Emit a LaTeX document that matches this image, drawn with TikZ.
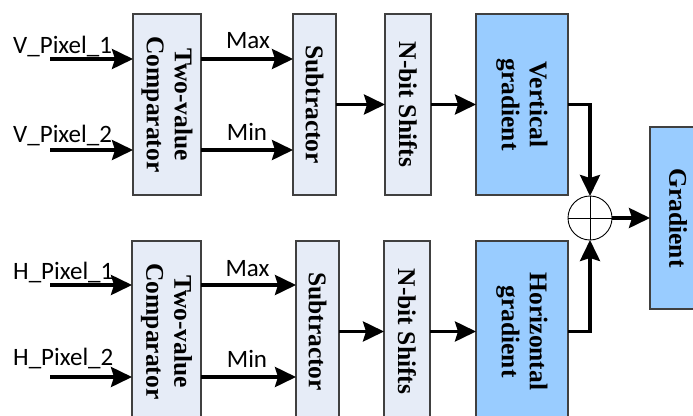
\documentclass[tikz,border=0pt]{standalone}
\usepackage{fontspec}
\setmainfont{Liberation Serif}
\newfontfamily\lblfont{Carlito}
\usetikzlibrary{arrows.meta,calc}
\definecolor{lightbox}{HTML}{E6ECF7}
\definecolor{gradbox}{HTML}{99CCFF}
\definecolor{border}{HTML}{404040}
\tikzset{
  blk/.style={draw=border, line width=1.1pt, fill=lightbox, inner sep=0pt, outer sep=0pt, minimum height=181pt},
  gblk/.style={blk, fill=gradbox},
  btxt/.style={rotate=-90, align=center, inner sep=0pt, font=\bfseries\fontsize{25.5}{28}\selectfont},
  lbl/.style={inner sep=0pt, font=\lblfont\fontsize{25}{28}\selectfont},
  arr/.style={line width=3.5pt, -{Stealth[length=21pt,width=20pt,inset=3pt]}},
  sumnode/.style={circle, draw=black, line width=0.9pt, fill=white, minimum size=44pt, inner sep=0pt, outer sep=0pt}
}
\begin{document}
\begin{tikzpicture}[x=1pt,y=-1pt]
\useasboundingbox (0,0) rectangle (693,415);
\clip (0,0) rectangle (693,415);
% top row boxes
\node[blk, minimum width=68pt] (cmpV) at (167,104.5) {};
\node[btxt] at (cmpV) {Two-value\\Comparator};
\node[blk, minimum width=43pt] (subV) at (314.5,104.5) {};
\node[btxt] at (subV) {Subtractor};
\node[blk, minimum width=46pt] (shV) at (408,104.5) {};
\node[btxt] at (shV) {N-bit Shifts};
\node[gblk, minimum width=92pt] (vg) at (522,104.5) {};
\node[btxt] at (vg) {Vertical\\gradient};
% bottom row boxes
\node[blk, minimum width=69pt] (cmpH) at (166.5,331.5) {};
\node[btxt] at (cmpH) {Two-value\\Comparator};
\node[blk, minimum width=43pt] (subH) at (317.5,331.5) {};
\node[btxt] at (subH) {Subtractor};
\node[blk, minimum width=46pt] (shH) at (407,331.5) {};
\node[btxt] at (shH) {N-bit Shifts};
\node[gblk, minimum width=92pt] (hg) at (522,331.5) {};
\node[btxt] at (hg) {Horizontal\\gradient};
% output
\node[gblk, minimum width=56pt, minimum height=182pt] (grad) at (678,218) {};
\node[btxt] at (grad) {Gradient};
\node[sumnode] (sum) at (590,218) {};
\draw[line width=0.9pt] (sum.north) -- (sum.south) (sum.west) -- (sum.east);
% inputs
\coordinate (v1) at (50,59);
\coordinate (v2) at (50,150);
\coordinate (h1) at (50,285);
\coordinate (h2) at (50,377);
\node[lbl, anchor=base west] (lv1) at (13,53) {V\_Pixel\_1};
\node[lbl, anchor=base west] (lv2) at (13,142) {V\_Pixel\_2};
\node[lbl, anchor=base west] (lh1) at (13,279) {H\_Pixel\_1};
\node[lbl, anchor=base west] (lh2) at (13,365) {H\_Pixel\_2};
\node[lbl, anchor=base] (mxV) at (248,48) {Max};
\node[lbl, anchor=base] (mnV) at (247,140) {Min};
\node[lbl, anchor=base] (mxH) at (247.5,276) {Max};
\node[lbl, anchor=base] (mnH) at (247,367) {Min};
% arrows top
\draw[arr] (v1) -- (v1 -| cmpV.west);
\draw[arr] (v2) -- (v2 -| cmpV.west);
\draw[arr] (cmpV.east |- v1) -- (subV.west |- v1);
\draw[arr] (cmpV.east |- v2) -- (subV.west |- v2);
\draw[arr] (subV.east) -- (shV.west);
\draw[arr] (shV.east) -- (vg.west);
\draw[arr] (vg.east) -| (sum.north);
% arrows bottom
\draw[arr] (h1) -- (h1 -| cmpH.west);
\draw[arr] (h2) -- (h2 -| cmpH.west);
\draw[arr] (cmpH.east |- h1) -- (subH.west |- h1);
\draw[arr] (cmpH.east |- h2) -- (subH.west |- h2);
\draw[arr] (subH.east) -- (shH.west);
\draw[arr] (shH.east) -- (hg.west);
\draw[arr] (hg.east) -| (sum.south);
\draw[arr] (sum.east) -- (grad.west);
\end{tikzpicture}
\end{document}
